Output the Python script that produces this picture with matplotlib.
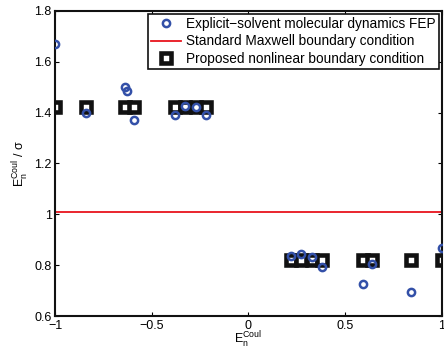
import matplotlib
matplotlib.use('Agg')
import matplotlib.pyplot as plt
import numpy as np

plt.rc('font', family=['Liberation Sans', 'DejaVu Sans'])
plt.rc('font', size=9)
plt.rc('axes', unicode_minus=True)

# explicit-solvent MD FEP points
fep_x = [-1.0, -0.84, -0.64, -0.63, -0.59, -0.38, -0.33, -0.27, -0.22,
         0.22, 0.27, 0.33, 0.38, 0.59, 0.64, 0.84, 1.0]
fep_y = [1.67, 1.40, 1.50, 1.485, 1.37, 1.39, 1.425, 1.423, 1.39,
         0.836, 0.844, 0.832, 0.793, 0.726, 0.805, 0.694, 0.868]

# proposed nonlinear boundary condition
nl_x = [-1.0, -0.84, -0.64, -0.59, -0.38, -0.33, -0.27, -0.22,
        0.22, 0.27, 0.33, 0.38, 0.59, 0.64, 0.84, 1.0]
nl_y = [1.42] * 8 + [0.82] * 8

# standard Maxwell boundary condition
maxwell_x = [-1.0, 1.0]
maxwell_y = [1.01, 1.01]

fig = plt.figure(figsize=(4.44, 3.5), dpi=100)
ax = fig.add_axes([0.124, 0.097, 0.871, 0.872])

ax.plot(fep_x, fep_y, 'o', mfc='none', mec='#3350a8', mew=1.8, ms=5.2,
        label='Explicit\u2212solvent molecular dynamics FEP', zorder=3)
ax.plot(maxwell_x, maxwell_y, '-', color='#e8141c', lw=1.3,
        label='Standard Maxwell boundary condition')
ax.plot(nl_x, nl_y, 's', mfc='white', mec='#111111', mew=3.3, ms=6.5,
        label='Proposed nonlinear boundary condition', zorder=2)

ax.set_xlim(-1, 1)
ax.set_ylim(0.6, 1.8)
ax.set_xticks([-1, -0.5, 0, 0.5, 1])
ax.set_xticklabels(['\u22121', '\u22120.5', '0', '0.5', '1'])
ax.set_yticks([0.6, 0.8, 1.0, 1.2, 1.4, 1.6, 1.8])
ax.set_yticklabels(['0.6', '0.8', '1', '1.2', '1.4', '1.6', '1.8'])
ax.tick_params(direction='in', length=3, width=0.8, top=True, right=True, pad=2.5)
for s in ax.spines.values():
    s.set_linewidth(1.5)
    s.set_color('#111111')

ax.set_xlabel(r'$\mathregular{E_n^{Coul}}$', labelpad=-1)
ax.set_ylabel(r'$\mathregular{E_n^{Coul}}$ / $\mathregular{\sigma}$', labelpad=2)

leg = ax.legend(loc='upper right', fontsize=9.8, borderaxespad=0.2,
                handlelength=2.2, handletextpad=0.35, borderpad=0.25,
                labelspacing=0.25, fancybox=False, framealpha=1)
leg.get_frame().set_edgecolor('#111111')
leg.get_frame().set_linewidth(1.2)

plt.savefig('out.png', dpi=100)
